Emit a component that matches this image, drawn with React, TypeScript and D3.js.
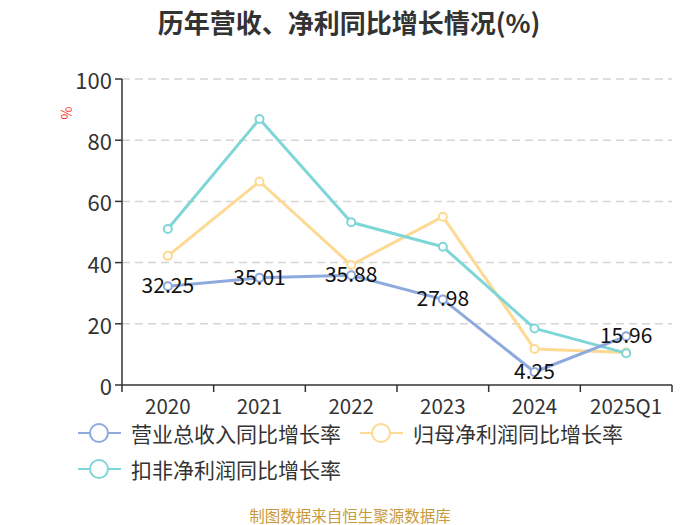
import React from 'react';
import * as d3 from 'd3';

const categories = ['2020', '2021', '2022', '2023', '2024', '2025Q1'];
const revenueGrowth = [32.25, 35.01, 35.88, 27.98, 4.25, 15.96];
const netProfitGrowth = [42.2, 66.5, 39.2, 55.0, 11.8, 10.6];
const deductedProfitGrowth = [51.0, 86.9, 53.2, 45.2, 18.5, 10.4];
const yTicks = [0, 20, 40, 60, 80, 100];

const seriesNames = ['营业总收入同比增长率', '归母净利润同比增长率', '扣非净利润同比增长率'];
const colors = ['#8eaadd', '#fdd993', '#7fd6d7'];

const FONT = '"Noto Sans CJK SC", "Noto Sans", sans-serif';

const App: React.FC = () => {
  const width = 700;
  const height = 525;
  const margin = { top: 79, right: 28, bottom: 140, left: 122 };

  const x = d3.scaleBand<string>()
    .domain(categories)
    .range([margin.left, width - margin.right]);

  const y = d3.scaleLinear()
    .domain([0, 100])
    .range([height - margin.bottom, margin.top]);

  const cx = (c: string) => (x(c) || 0) + x.bandwidth() / 2;

  const line = d3.line<number>()
    .x((_d, i) => cx(categories[i]))
    .y(d => y(d));

  const series = [revenueGrowth, netProfitGrowth, deductedProfitGrowth];
  // yellow and cyan go under the blue one
  const drawOrder = [1, 2, 0];

  const x0 = margin.left;
  const x1 = width - margin.right;
  const yBase = y(0);

  const legendItems = [
    { name: seriesNames[0], color: colors[0], x: 78, y: 433 },
    { name: seriesNames[1], color: colors[1], x: 360, y: 433 },
    { name: seriesNames[2], color: colors[2], x: 78, y: 469 },
  ];

  return (
    <div style={{ position: 'fixed', left: 0, top: 0, width, height, overflow: 'hidden' }}>
      <svg width={width} height={height} style={{ display: 'block', fontFamily: FONT }}>
        <rect width={width} height={height} fill="#fff" />
        <text x={349} y={21} textAnchor="middle" dominantBaseline="central"
          fontSize={26} fontWeight="bold" fill="#333">历年营收、净利同比增长情况(%)</text>

        <text transform="translate(66,113) rotate(-90)" textAnchor="middle" dominantBaseline="central"
          fontSize={14} fill="#f33">%</text>

        {/* grid */}
        {yTicks.filter(t => t > 0).map(t => (
          <line key={t} x1={x0} x2={x1} y1={y(t)} y2={y(t)}
            stroke="#d4d4d4" strokeWidth={1.5} strokeDasharray="8,5" />
        ))}

        {/* y axis */}
        <line x1={x0} x2={x0} y1={margin.top} y2={yBase} stroke="#333" strokeWidth={1.5} />
        {yTicks.map(t => (
          <g key={t}>
            <line x1={x0 - 7} x2={x0} y1={y(t)} y2={y(t)} stroke="#333" strokeWidth={1.5} />
            <text x={x0 - 10} y={y(t)} textAnchor="end" dominantBaseline="central"
              fontSize={22} fill="#333">{t}</text>
          </g>
        ))}

        {/* x axis */}
        <line x1={x0} x2={x1} y1={yBase} y2={yBase} stroke="#333" strokeWidth={1.5} />
        {categories.map(c => (
          <line key={'t' + c} x1={x(c) || 0} x2={x(c) || 0}
            y1={yBase} y2={yBase + 7} stroke="#333" strokeWidth={1.5} />
        ))}
        <line x1={x1} x2={x1} y1={yBase} y2={yBase + 7} stroke="#333" strokeWidth={1.5} />
        {categories.map(c => (
          <text key={'l' + c} x={cx(c)} y={405} textAnchor="middle" dominantBaseline="central"
            fontSize={20.5} fill="#333">{c}</text>
        ))}

        {/* lines */}
        {drawOrder.map(si => (
          <g key={si}>
            <path d={line(series[si]) || ''} fill="none" stroke={colors[si]} strokeWidth={3}
              strokeLinejoin="round" />
            {series[si].map((v, i) => (
              <circle key={i} cx={cx(categories[i])} cy={y(v)} r={4}
                fill="#fff" stroke={colors[si]} strokeWidth={2} />
            ))}
          </g>
        ))}

        {/* labels on revenue */}
        {revenueGrowth.map((v, i) => (
          <text key={i} x={cx(categories[i])} y={y(v) - 2} textAnchor="middle" dominantBaseline="central"
            fontSize={21} fill="#111">{v.toFixed(2)}</text>
        ))}

        {/* legend */}
        {legendItems.map(it => (
          <g key={it.name}>
            <line x1={it.x} x2={it.x + 43} y1={it.y} y2={it.y} stroke={it.color} strokeWidth={2} />
            <circle cx={it.x + 21} cy={it.y} r={9} fill="#fff" stroke={it.color} strokeWidth={2} />
            <text x={it.x + 53} y={it.y} dominantBaseline="central" fontSize={21} fill="#333">{it.name}</text>
          </g>
        ))}

        <text x={350} y={515} textAnchor="middle" dominantBaseline="central" fontSize={15.5}
          fill="#c99a3c">制图数据来自恒生聚源数据库</text>
      </svg>
    </div>
  );
};

export default App;
